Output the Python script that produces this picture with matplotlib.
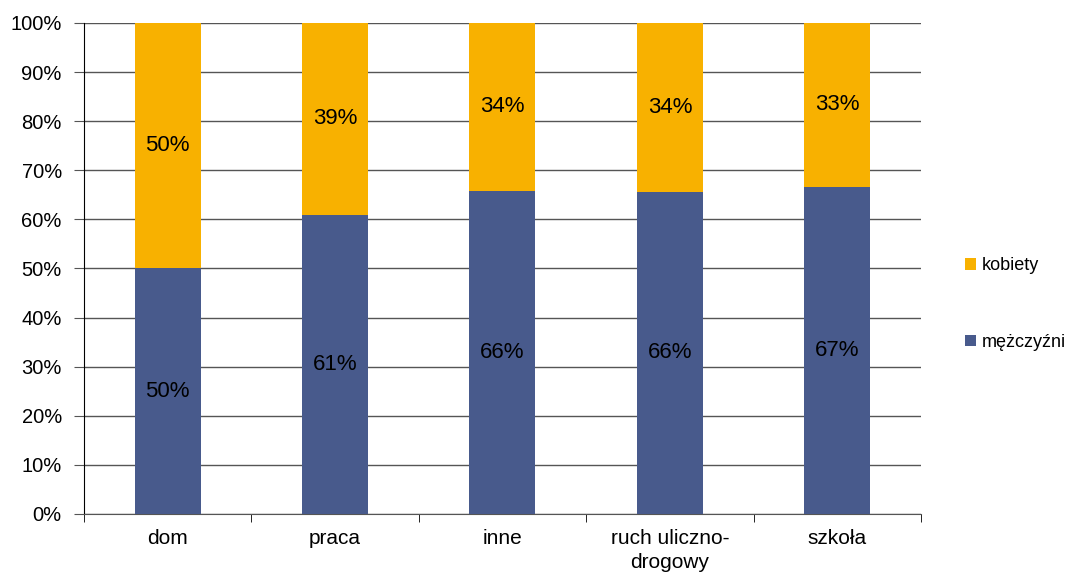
import numpy as np
import matplotlib
matplotlib.use("Agg")
import matplotlib.pyplot as plt

plt.rcParams['font.family'] = ['Liberation Sans', 'DejaVu Sans']

categories = ["dom", "praca", "inne", "ruch uliczno-\ndrogowy", "szkoła"]
mezczyzni = [50.0, 60.9, 65.8, 65.6, 66.6]
kobiety = [50.0, 39.1, 34.2, 34.4, 33.4]
mezczyzni_labels = ["50%", "61%", "66%", "66%", "67%"]
kobiety_labels = ["50%", "39%", "34%", "34%", "33%"]

blue = "#485a8c"
orange = "#f8b100"

fig = plt.figure(figsize=(10.7, 5.73), dpi=100)
ax = fig.add_axes([0.0785, 0.103, 0.7822, 0.857])

x = np.arange(len(categories))
w = 0.394
b1 = ax.bar(x, mezczyzni, w, color=blue, label="mężczyźni", zorder=3)
b2 = ax.bar(x, kobiety, w, bottom=mezczyzni, color=orange, label="kobiety", zorder=3)

for i in range(len(categories)):
    ax.text(x[i], mezczyzni[i] / 2, mezczyzni_labels[i], ha="center", va="center",
            fontsize=16, color="black", zorder=4)
    ax.text(x[i], mezczyzni[i] + kobiety[i] / 2, kobiety_labels[i], ha="center",
            va="center", fontsize=16, color="black", zorder=4)

ax.set_xlim(-0.5, len(categories) - 0.5)
ax.set_ylim(0, 100)
ax.set_yticks(np.arange(0, 101, 10))
ax.set_yticklabels([f"{v}%" for v in range(0, 101, 10)], fontsize=14.5)
ax.yaxis.grid(True, color="#555555", linewidth=1.0, zorder=0)

ax.set_xticks(x)
ax.set_xticklabels(categories, fontsize=15, linespacing=1.3)
ax.tick_params(axis="x", length=0, pad=11)
ax.set_xticks(np.arange(-0.5, len(categories)), minor=True)
ax.tick_params(axis="x", which="minor", length=6, color="black", direction="out")
ax.tick_params(axis="y", length=7, color="#555555", direction="out", pad=9)

for s in ["top", "right"]:
    ax.spines[s].set_visible(False)
ax.spines["left"].set_color("black")
ax.spines["bottom"].set_color("#555555")

handles = [b2, b1]
leg = fig.legend(handles, ["kobiety", "mężczyźni"], loc="center left",
                 bbox_to_anchor=(0.887, 0.469), frameon=False, fontsize=13,
                 handlelength=0.6, handleheight=0.6, handletextpad=0.3,
                 labelspacing=3.3)

fig.savefig("out.png", dpi=100)
